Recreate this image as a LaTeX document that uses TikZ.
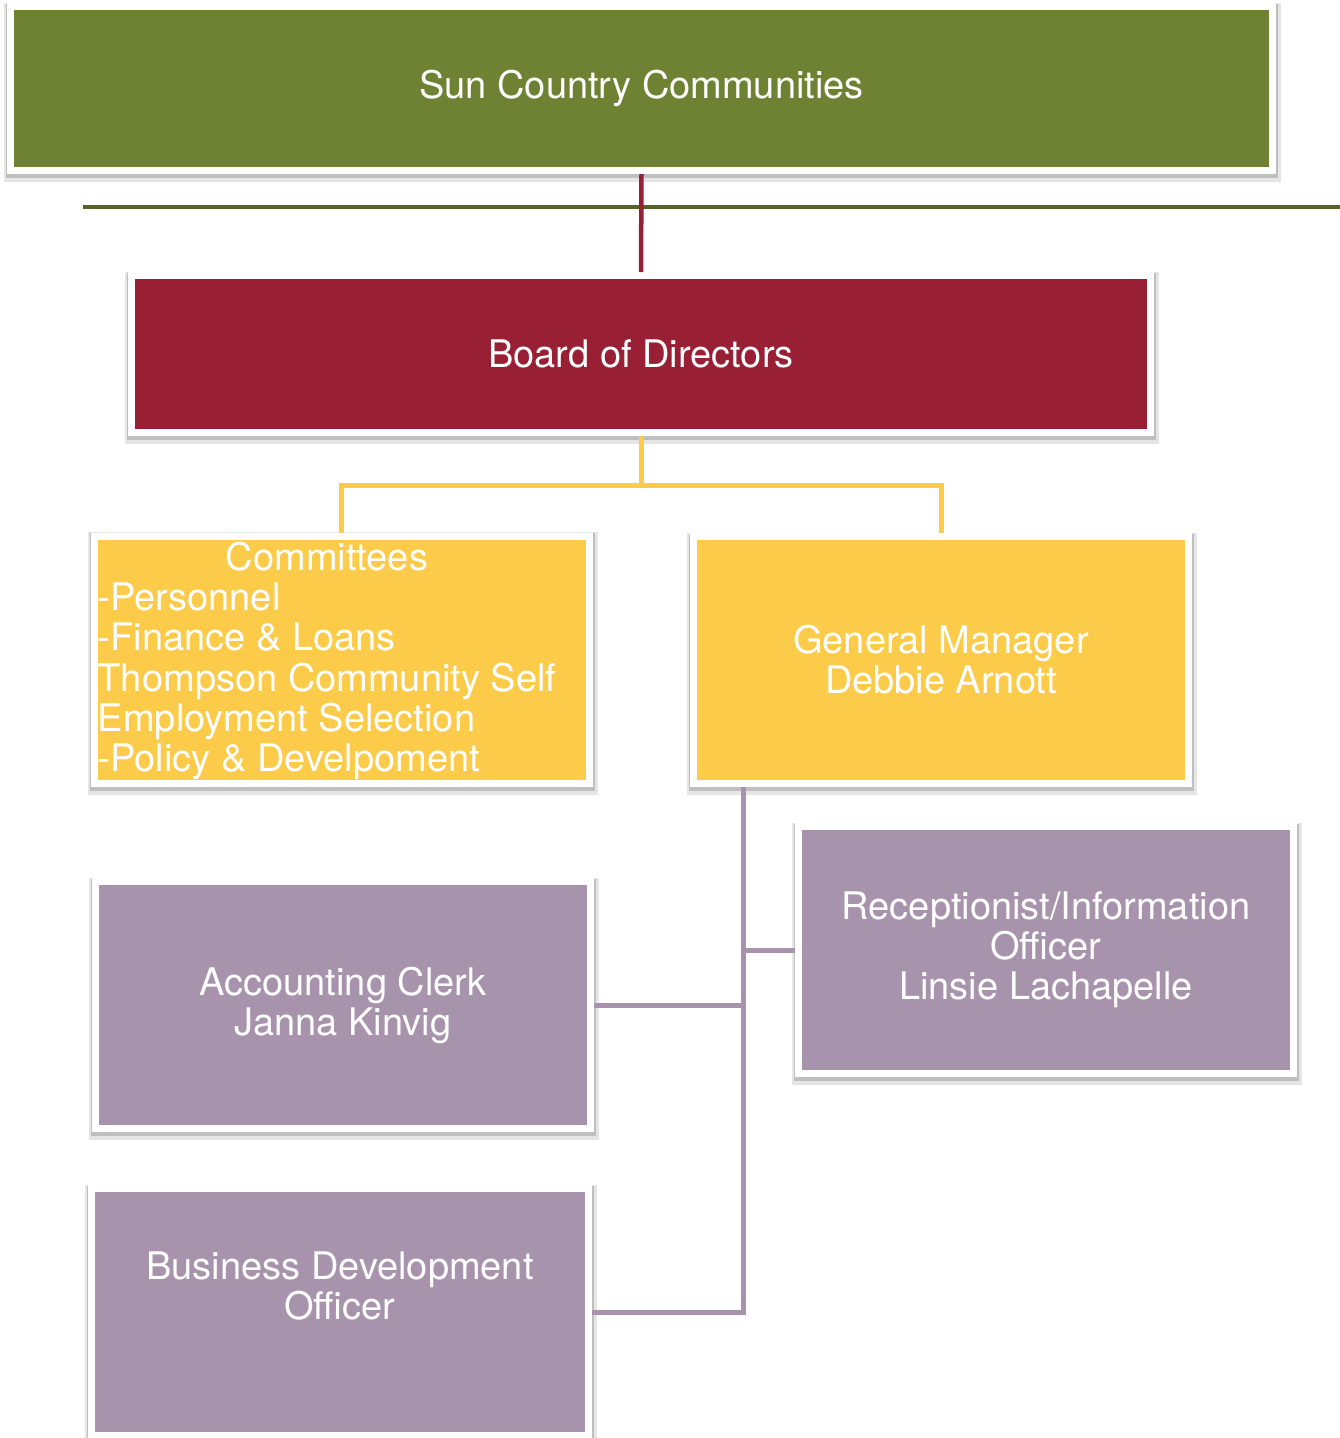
\documentclass[tikz,border=0pt]{standalone}
\usepackage{fontspec}
\setmainfont{TeX Gyre Heros}
\definecolor{suncgreen}{RGB}{111,130,52}
\definecolor{rulegreen}{RGB}{86,99,40}
\definecolor{boardred}{RGB}{152,31,52}
\definecolor{commyellow}{RGB}{253,203,74}
\definecolor{staffpurp}{RGB}{167,148,172}
\tikzset{
  orgbox/.style={draw=white, line width=7pt, minimum width=495pt, minimum height=247pt,
    inner sep=0pt, text=white, align=center, font=\fontsize{38}{40}\selectfont,
    preaction={draw=black!10, line width=15pt, transform canvas={shift={(1pt,-3.5pt)}}},
    preaction={draw=black!25, line width=10pt, transform canvas={shift={(0.5pt,-2pt)}}}},
  link/.style={line width=5pt}
}

\begin{document}
\begin{tikzpicture}[x=1pt,y=-1pt]
        \useasboundingbox (0,0) rectangle (1340,1438);
        % boxes
        \node[orgbox, fill=suncgreen, minimum width=1262pt, minimum height=164pt] (sun) at (641.5,88.5) {Sun Country Communities};
        \node[orgbox, fill=boardred, minimum width=1019pt, minimum height=157pt] (board) at (641,354) {Board of Directors};
        \node[orgbox, fill=commyellow] (comm) at (341.75,660) {\makebox[488pt][l]{\raisebox{0pt}[\dimexpr\height+6pt\relax]{\begin{tabular}{@{}l@{}}
            \multicolumn{1}{@{}c@{}}{Committees}\\
            -Personnel\\
            -Finance \& Loans\\
            Thompson Community Self\\
            Employment Selection\\
            -Policy \& Develpoment
          \end{tabular}}}};
        \node[orgbox, fill=commyellow] (gm) at (941,660) {General Manager\\Debbie Arnott};
        \node[orgbox, fill=staffpurp] (recept) at (1046,950) {Receptionist/Information\\Officer\\Linsie Lachapelle};
        \node[orgbox, fill=staffpurp] (acct) at (343,1005) {Accounting Clerk\\Janna Kinvig};
        \node[orgbox, fill=staffpurp, minimum width=497pt] (bus) at (340,1312) {Business Development\\Officer\\\strut};
        % connectors
        \coordinate (rule l) at (83,207);
        \coordinate (rule r) at (1340,207);
        \draw[line width=4pt, rulegreen] (rule l) -- (rule r);
        \draw[link, boardred, line width=4.5pt] (sun.south) -- (board.north);
        \draw[link, commyellow] (board.south) -- ++(0,49) coordinate (fork);
        \draw[link, commyellow] (fork) -| (comm.north);
        \draw[link, commyellow] (fork) -| (gm.north);
        \coordinate (trunk) at ([xshift=53pt]gm.south west);
        \draw[link, staffpurp] (trunk) |- (bus.east);
        \draw[link, staffpurp] (acct.east) -- (acct.east -| trunk);
        \draw[link, staffpurp] (recept.west) -- (recept.west -| trunk);
\end{tikzpicture}
\end{document}
